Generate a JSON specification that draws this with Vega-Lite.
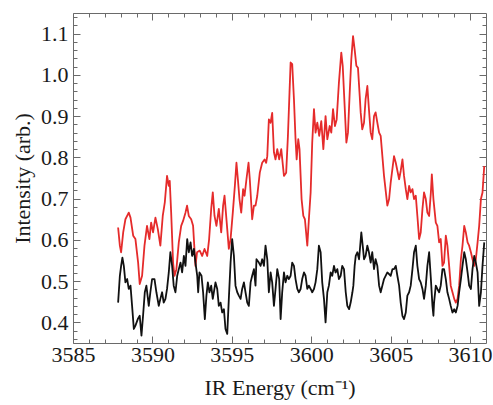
{
  "$schema": "https://vega.github.io/schema/vega-lite/v6.json",
  "width": 413,
  "height": 330,
  "autosize": "none",
  "padding": {"left": 73, "top": 13, "right": 7, "bottom": 62},
  "background": "white",
  "config": {
    "view": {"stroke": "#6a6a6a", "strokeWidth": 1},
    "axis": {"domain": false, "grid": false, "labelFont": "Liberation Serif", "titleFont": "Liberation Serif", "labelFontSize": 22, "titleFontSize": 22, "labelColor": "#1a1a1a", "titleColor": "#1a1a1a", "titleFontWeight": "normal", "tickColor": "#6a6a6a", "tickWidth": 1}
  },
  "datasets": {
    "red": [
      {"x":3587.84,"y":0.630},{"x":3587.95,"y":0.586},{"x":3588.03,"y":0.570},{"x":3588.16,"y":0.618},{"x":3588.30,"y":0.650},{"x":3588.51,"y":0.666},{"x":3588.62,"y":0.654},{"x":3588.79,"y":0.610},{"x":3588.93,"y":0.602},{"x":3589.10,"y":0.545},{"x":3589.20,"y":0.493},{"x":3589.35,"y":0.513},{"x":3589.50,"y":0.586},{"x":3589.66,"y":0.634},{"x":3589.81,"y":0.602},{"x":3589.92,"y":0.642},{"x":3590.04,"y":0.618},{"x":3590.19,"y":0.654},{"x":3590.34,"y":0.626},{"x":3590.50,"y":0.586},{"x":3590.65,"y":0.658},{"x":3590.78,"y":0.691},{"x":3590.92,"y":0.755},{"x":3591.03,"y":0.731},{"x":3591.09,"y":0.743},{"x":3591.18,"y":0.666},{"x":3591.30,"y":0.545},{"x":3591.39,"y":0.513},{"x":3591.51,"y":0.529},{"x":3591.66,"y":0.594},{"x":3591.81,"y":0.634},{"x":3591.93,"y":0.646},{"x":3592.08,"y":0.666},{"x":3592.18,"y":0.683},{"x":3592.29,"y":0.658},{"x":3592.44,"y":0.650},{"x":3592.56,"y":0.634},{"x":3592.71,"y":0.537},{"x":3592.81,"y":0.570},{"x":3592.98,"y":0.574},{"x":3593.13,"y":0.561},{"x":3593.28,"y":0.578},{"x":3593.45,"y":0.561},{"x":3593.57,"y":0.602},{"x":3593.70,"y":0.675},{"x":3593.80,"y":0.715},{"x":3593.91,"y":0.658},{"x":3594.03,"y":0.634},{"x":3594.18,"y":0.675},{"x":3594.33,"y":0.618},{"x":3594.45,"y":0.683},{"x":3594.54,"y":0.707},{"x":3594.71,"y":0.626},{"x":3594.81,"y":0.578},{"x":3594.92,"y":0.602},{"x":3595.06,"y":0.666},{"x":3595.19,"y":0.731},{"x":3595.29,"y":0.787},{"x":3595.38,"y":0.747},{"x":3595.48,"y":0.699},{"x":3595.59,"y":0.666},{"x":3595.71,"y":0.723},{"x":3595.80,"y":0.707},{"x":3595.92,"y":0.747},{"x":3596.05,"y":0.787},{"x":3596.13,"y":0.747},{"x":3596.28,"y":0.650},{"x":3596.39,"y":0.683},{"x":3596.49,"y":0.683},{"x":3596.60,"y":0.707},{"x":3596.76,"y":0.763},{"x":3596.91,"y":0.787},{"x":3597.06,"y":0.795},{"x":3597.16,"y":0.787},{"x":3597.23,"y":0.803},{"x":3597.33,"y":0.892},{"x":3597.44,"y":0.884},{"x":3597.54,"y":0.908},{"x":3597.65,"y":0.812},{"x":3597.75,"y":0.795},{"x":3597.86,"y":0.820},{"x":3597.98,"y":0.795},{"x":3598.11,"y":0.820},{"x":3598.28,"y":0.755},{"x":3598.42,"y":0.763},{"x":3598.53,"y":0.852},{"x":3598.63,"y":0.957},{"x":3598.70,"y":1.030},{"x":3598.80,"y":1.026},{"x":3598.91,"y":0.941},{"x":3599.01,"y":0.844},{"x":3599.08,"y":0.795},{"x":3599.18,"y":0.844},{"x":3599.26,"y":0.820},{"x":3599.39,"y":0.699},{"x":3599.50,"y":0.658},{"x":3599.60,"y":0.650},{"x":3599.75,"y":0.586},{"x":3599.85,"y":0.650},{"x":3599.96,"y":0.715},{"x":3600.06,"y":0.836},{"x":3600.17,"y":0.917},{"x":3600.27,"y":0.860},{"x":3600.38,"y":0.884},{"x":3600.50,"y":0.852},{"x":3600.63,"y":0.888},{"x":3600.76,"y":0.820},{"x":3600.90,"y":0.900},{"x":3601.01,"y":0.844},{"x":3601.16,"y":0.876},{"x":3601.26,"y":0.860},{"x":3601.37,"y":0.917},{"x":3601.49,"y":0.876},{"x":3601.60,"y":0.892},{"x":3601.74,"y":0.981},{"x":3601.89,"y":1.054},{"x":3601.98,"y":1.022},{"x":3602.10,"y":0.925},{"x":3602.21,"y":0.836},{"x":3602.31,"y":0.860},{"x":3602.42,"y":0.957},{"x":3602.52,"y":1.038},{"x":3602.63,"y":1.094},{"x":3602.73,"y":1.062},{"x":3602.84,"y":1.022},{"x":3602.94,"y":1.017},{"x":3603.05,"y":0.949},{"x":3603.11,"y":0.909},{"x":3603.21,"y":0.868},{"x":3603.32,"y":0.884},{"x":3603.42,"y":0.941},{"x":3603.53,"y":0.973},{"x":3603.63,"y":0.917},{"x":3603.74,"y":0.860},{"x":3603.84,"y":0.844},{"x":3603.95,"y":0.900},{"x":3604.05,"y":0.909},{"x":3604.16,"y":0.884},{"x":3604.27,"y":0.860},{"x":3604.37,"y":0.852},{"x":3604.58,"y":0.755},{"x":3604.79,"y":0.683},{"x":3604.90,"y":0.699},{"x":3605.00,"y":0.739},{"x":3605.21,"y":0.803},{"x":3605.32,"y":0.787},{"x":3605.53,"y":0.747},{"x":3605.63,"y":0.767},{"x":3605.74,"y":0.795},{"x":3605.84,"y":0.755},{"x":3605.95,"y":0.723},{"x":3606.05,"y":0.699},{"x":3606.16,"y":0.731},{"x":3606.26,"y":0.715},{"x":3606.37,"y":0.723},{"x":3606.47,"y":0.699},{"x":3606.58,"y":0.707},{"x":3606.68,"y":0.658},{"x":3606.79,"y":0.602},{"x":3606.89,"y":0.618},{"x":3607.00,"y":0.675},{"x":3607.10,"y":0.715},{"x":3607.21,"y":0.699},{"x":3607.31,"y":0.666},{"x":3607.42,"y":0.658},{"x":3607.53,"y":0.715},{"x":3607.59,"y":0.759},{"x":3607.69,"y":0.699},{"x":3607.84,"y":0.642},{"x":3607.94,"y":0.634},{"x":3608.05,"y":0.594},{"x":3608.15,"y":0.602},{"x":3608.26,"y":0.537},{"x":3608.36,"y":0.545},{"x":3608.47,"y":0.610},{"x":3608.57,"y":0.586},{"x":3608.68,"y":0.537},{"x":3608.78,"y":0.489},{"x":3608.89,"y":0.473},{"x":3609.00,"y":0.457},{"x":3609.10,"y":0.448},{"x":3609.21,"y":0.457},{"x":3609.31,"y":0.489},{"x":3609.42,"y":0.553},{"x":3609.52,"y":0.586},{"x":3609.63,"y":0.634},{"x":3609.73,"y":0.618},{"x":3609.84,"y":0.594},{"x":3609.94,"y":0.586},{"x":3610.05,"y":0.570},{"x":3610.15,"y":0.553},{"x":3610.26,"y":0.537},{"x":3610.36,"y":0.553},{"x":3610.47,"y":0.594},{"x":3610.57,"y":0.634},{"x":3610.68,"y":0.699},{"x":3610.78,"y":0.715},{"x":3610.89,"y":0.779}
    ],
    "black": [
      {"x":3587.84,"y":0.448},{"x":3587.95,"y":0.513},{"x":3588.03,"y":0.537},{"x":3588.11,"y":0.557},{"x":3588.20,"y":0.537},{"x":3588.30,"y":0.497},{"x":3588.41,"y":0.505},{"x":3588.51,"y":0.481},{"x":3588.62,"y":0.489},{"x":3588.72,"y":0.440},{"x":3588.83,"y":0.384},{"x":3588.93,"y":0.392},{"x":3589.08,"y":0.408},{"x":3589.20,"y":0.416},{"x":3589.31,"y":0.368},{"x":3589.41,"y":0.416},{"x":3589.52,"y":0.473},{"x":3589.62,"y":0.489},{"x":3589.77,"y":0.440},{"x":3589.87,"y":0.473},{"x":3589.98,"y":0.505},{"x":3590.13,"y":0.505},{"x":3590.25,"y":0.473},{"x":3590.40,"y":0.440},{"x":3590.50,"y":0.457},{"x":3590.61,"y":0.473},{"x":3590.71,"y":0.448},{"x":3590.82,"y":0.457},{"x":3590.92,"y":0.481},{"x":3591.03,"y":0.521},{"x":3591.13,"y":0.570},{"x":3591.24,"y":0.537},{"x":3591.34,"y":0.489},{"x":3591.45,"y":0.473},{"x":3591.56,"y":0.513},{"x":3591.66,"y":0.529},{"x":3591.77,"y":0.545},{"x":3591.87,"y":0.521},{"x":3591.98,"y":0.561},{"x":3592.08,"y":0.537},{"x":3592.19,"y":0.602},{"x":3592.29,"y":0.570},{"x":3592.40,"y":0.594},{"x":3592.50,"y":0.561},{"x":3592.61,"y":0.578},{"x":3592.71,"y":0.545},{"x":3592.82,"y":0.513},{"x":3592.88,"y":0.473},{"x":3592.96,"y":0.521},{"x":3593.09,"y":0.513},{"x":3593.19,"y":0.473},{"x":3593.30,"y":0.408},{"x":3593.40,"y":0.465},{"x":3593.49,"y":0.497},{"x":3593.59,"y":0.473},{"x":3593.70,"y":0.489},{"x":3593.80,"y":0.457},{"x":3593.97,"y":0.497},{"x":3594.08,"y":0.481},{"x":3594.18,"y":0.440},{"x":3594.29,"y":0.448},{"x":3594.39,"y":0.424},{"x":3594.50,"y":0.432},{"x":3594.60,"y":0.384},{"x":3594.71,"y":0.372},{"x":3594.81,"y":0.457},{"x":3594.92,"y":0.545},{"x":3595.02,"y":0.602},{"x":3595.13,"y":0.561},{"x":3595.23,"y":0.489},{"x":3595.34,"y":0.473},{"x":3595.44,"y":0.465},{"x":3595.55,"y":0.457},{"x":3595.65,"y":0.481},{"x":3595.76,"y":0.497},{"x":3595.86,"y":0.473},{"x":3595.97,"y":0.448},{"x":3596.07,"y":0.440},{"x":3596.18,"y":0.497},{"x":3596.28,"y":0.513},{"x":3596.39,"y":0.529},{"x":3596.49,"y":0.489},{"x":3596.55,"y":0.553},{"x":3596.70,"y":0.545},{"x":3596.81,"y":0.537},{"x":3596.91,"y":0.553},{"x":3597.02,"y":0.537},{"x":3597.12,"y":0.586},{"x":3597.23,"y":0.553},{"x":3597.33,"y":0.473},{"x":3597.44,"y":0.521},{"x":3597.54,"y":0.497},{"x":3597.65,"y":0.440},{"x":3597.75,"y":0.481},{"x":3597.86,"y":0.529},{"x":3597.98,"y":0.505},{"x":3598.07,"y":0.408},{"x":3598.17,"y":0.473},{"x":3598.28,"y":0.521},{"x":3598.38,"y":0.497},{"x":3598.49,"y":0.513},{"x":3598.59,"y":0.505},{"x":3598.70,"y":0.513},{"x":3598.80,"y":0.545},{"x":3598.91,"y":0.537},{"x":3599.01,"y":0.505},{"x":3599.12,"y":0.481},{"x":3599.22,"y":0.473},{"x":3599.33,"y":0.481},{"x":3599.43,"y":0.505},{"x":3599.54,"y":0.521},{"x":3599.64,"y":0.513},{"x":3599.75,"y":0.481},{"x":3599.85,"y":0.489},{"x":3599.96,"y":0.481},{"x":3600.06,"y":0.473},{"x":3600.17,"y":0.481},{"x":3600.27,"y":0.497},{"x":3600.38,"y":0.529},{"x":3600.48,"y":0.586},{"x":3600.59,"y":0.570},{"x":3600.69,"y":0.497},{"x":3600.80,"y":0.457},{"x":3600.90,"y":0.400},{"x":3601.01,"y":0.473},{"x":3601.11,"y":0.489},{"x":3601.22,"y":0.521},{"x":3601.32,"y":0.513},{"x":3601.43,"y":0.537},{"x":3601.53,"y":0.521},{"x":3601.64,"y":0.529},{"x":3601.74,"y":0.505},{"x":3601.85,"y":0.513},{"x":3601.95,"y":0.537},{"x":3602.06,"y":0.529},{"x":3602.17,"y":0.473},{"x":3602.27,"y":0.440},{"x":3602.38,"y":0.432},{"x":3602.48,"y":0.448},{"x":3602.59,"y":0.473},{"x":3602.65,"y":0.489},{"x":3602.73,"y":0.537},{"x":3602.80,"y":0.561},{"x":3602.90,"y":0.570},{"x":3603.01,"y":0.553},{"x":3603.15,"y":0.618},{"x":3603.26,"y":0.578},{"x":3603.32,"y":0.553},{"x":3603.42,"y":0.561},{"x":3603.53,"y":0.586},{"x":3603.63,"y":0.570},{"x":3603.74,"y":0.545},{"x":3603.84,"y":0.570},{"x":3603.95,"y":0.529},{"x":3604.05,"y":0.553},{"x":3604.16,"y":0.537},{"x":3604.27,"y":0.489},{"x":3604.37,"y":0.473},{"x":3604.58,"y":0.505},{"x":3604.79,"y":0.521},{"x":3605.00,"y":0.513},{"x":3605.11,"y":0.529},{"x":3605.21,"y":0.529},{"x":3605.32,"y":0.537},{"x":3605.42,"y":0.513},{"x":3605.53,"y":0.489},{"x":3605.63,"y":0.448},{"x":3605.74,"y":0.416},{"x":3605.84,"y":0.408},{"x":3605.95,"y":0.424},{"x":3606.05,"y":0.465},{"x":3606.16,"y":0.473},{"x":3606.26,"y":0.489},{"x":3606.37,"y":0.529},{"x":3606.47,"y":0.570},{"x":3606.58,"y":0.586},{"x":3606.68,"y":0.537},{"x":3606.79,"y":0.505},{"x":3606.89,"y":0.497},{"x":3607.00,"y":0.481},{"x":3607.10,"y":0.457},{"x":3607.21,"y":0.489},{"x":3607.31,"y":0.537},{"x":3607.42,"y":0.570},{"x":3607.53,"y":0.505},{"x":3607.63,"y":0.440},{"x":3607.69,"y":0.416},{"x":3607.73,"y":0.448},{"x":3607.84,"y":0.489},{"x":3607.94,"y":0.481},{"x":3608.05,"y":0.473},{"x":3608.15,"y":0.489},{"x":3608.26,"y":0.529},{"x":3608.36,"y":0.529},{"x":3608.47,"y":0.505},{"x":3608.57,"y":0.473},{"x":3608.68,"y":0.457},{"x":3608.78,"y":0.440},{"x":3608.89,"y":0.424},{"x":3609.00,"y":0.432},{"x":3609.10,"y":0.424},{"x":3609.21,"y":0.440},{"x":3609.31,"y":0.473},{"x":3609.42,"y":0.505},{"x":3609.52,"y":0.537},{"x":3609.63,"y":0.570},{"x":3609.73,"y":0.553},{"x":3609.84,"y":0.521},{"x":3609.94,"y":0.489},{"x":3610.05,"y":0.481},{"x":3610.15,"y":0.529},{"x":3610.26,"y":0.561},{"x":3610.36,"y":0.545},{"x":3610.47,"y":0.521},{"x":3610.57,"y":0.440},{"x":3610.68,"y":0.473},{"x":3610.78,"y":0.537},{"x":3610.89,"y":0.594}
    ]
  },
  "resolve": {"axis": {"x": "independent", "y": "independent"}},
  "layer": [
    {
      "data": {"name": "red"},
      "mark": {"type": "line", "color": "#e52b2b", "strokeWidth": 1.8, "strokeJoin": "round", "clip": true},
      "encoding": {
        "x": {"field": "x", "type": "quantitative", "scale": {"domain": [3585, 3611], "nice": false, "zero": false},
              "axis": {"orient": "bottom", "title": "IR Energy (cm⁻¹)", "values": [3585, 3590, 3595, 3600, 3605, 3610], "format": "d", "ticks": false, "labelPadding": 1, "titlePadding": 12, "labelFlush": false}},
        "y": {"field": "y", "type": "quantitative", "scale": {"domain": [0.35, 1.15], "nice": false, "zero": false},
              "axis": {"orient": "left", "title": "Intensity (arb.)", "values": [0.4, 0.5, 0.6, 0.7, 0.8, 0.9, 1.0, 1.1], "format": ".1f", "ticks": false, "labelPadding": 5, "titlePadding": 6, "labelFlush": false}}
      }
    },
    {
      "data": {"name": "black"},
      "mark": {"type": "line", "color": "#111111", "strokeWidth": 1.8, "strokeJoin": "round", "clip": true},
      "encoding": {
        "x": {"field": "x", "type": "quantitative", "axis": {"orient": "bottom", "title": null, "labels": false, "tickSize": -7, "values": [3585, 3590, 3595, 3600, 3605, 3610]}},
        "y": {"field": "y", "type": "quantitative", "axis": {"orient": "left", "title": null, "labels": false, "tickSize": -7, "values": [0.4, 0.5, 0.6, 0.7, 0.8, 0.9, 1.0, 1.1]}}
      }
    },
    {
      "data": {"name": "red"},
      "mark": {"type": "line", "opacity": 0},
      "encoding": {
        "x": {"field": "x", "type": "quantitative", "axis": {"orient": "bottom", "title": null, "labels": false, "tickSize": -4, "values": [3586, 3587, 3588, 3589, 3591, 3592, 3593, 3594, 3596, 3597, 3598, 3599, 3601, 3602, 3603, 3604, 3606, 3607, 3608, 3609]}},
        "y": {"field": "y", "type": "quantitative", "axis": {"orient": "left", "title": null, "labels": false, "tickSize": -4, "values": [0.36, 0.38, 0.42, 0.44, 0.46, 0.48, 0.52, 0.54, 0.56, 0.58, 0.62, 0.64, 0.66, 0.68, 0.72, 0.74, 0.76, 0.78, 0.82, 0.84, 0.86, 0.88, 0.92, 0.94, 0.96, 0.98, 1.02, 1.04, 1.06, 1.08, 1.12, 1.14]}}
      }
    },
    {
      "data": {"name": "red"},
      "mark": {"type": "line", "opacity": 0},
      "encoding": {
        "x": {"field": "x", "type": "quantitative", "axis": {"orient": "top", "title": null, "labels": false, "tickSize": -7, "values": [3585, 3590, 3595, 3600, 3605, 3610]}},
        "y": {"field": "y", "type": "quantitative", "axis": {"orient": "right", "title": null, "labels": false, "tickSize": -7, "values": [0.4, 0.5, 0.6, 0.7, 0.8, 0.9, 1.0, 1.1]}}
      }
    },
    {
      "data": {"name": "red"},
      "mark": {"type": "line", "opacity": 0},
      "encoding": {
        "x": {"field": "x", "type": "quantitative", "axis": {"orient": "top", "title": null, "labels": false, "tickSize": -4, "values": [3586, 3587, 3588, 3589, 3591, 3592, 3593, 3594, 3596, 3597, 3598, 3599, 3601, 3602, 3603, 3604, 3606, 3607, 3608, 3609]}},
        "y": {"field": "y", "type": "quantitative", "axis": {"orient": "right", "title": null, "labels": false, "tickSize": -4, "values": [0.36, 0.38, 0.42, 0.44, 0.46, 0.48, 0.52, 0.54, 0.56, 0.58, 0.62, 0.64, 0.66, 0.68, 0.72, 0.74, 0.76, 0.78, 0.82, 0.84, 0.86, 0.88, 0.92, 0.94, 0.96, 0.98, 1.02, 1.04, 1.06, 1.08, 1.12, 1.14]}}
      }
    }
  ]
}
